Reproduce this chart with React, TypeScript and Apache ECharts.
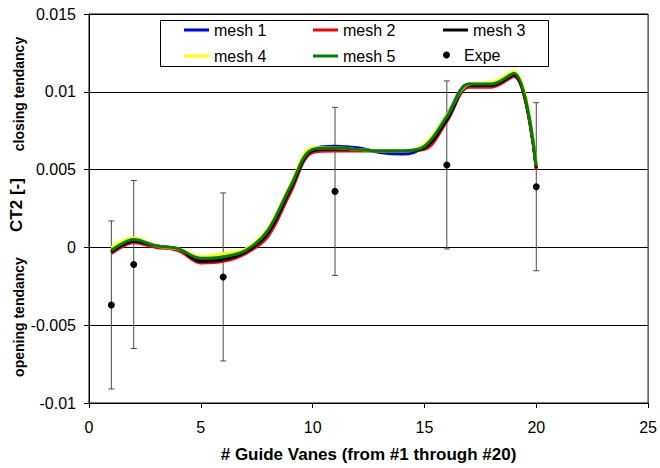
import React, { useEffect, useRef } from "react";
import * as echarts from "echarts";

const FONT = '"Liberation Sans", Arial, sans-serif';

const vaneIndex = [1, 2, 3, 4, 5, 6, 7, 8, 9, 10, 11, 12, 13, 14, 15, 16, 17, 18, 19, 20];

const mesh1 = [-0.0003, 0.0004, 0.0001, -0.0002, -0.0008, -0.0007, -0.0002, 0.0010, 0.0038, 0.0063, 0.0065, 0.0064, 0.0061, 0.0060, 0.0065, 0.0085, 0.0105, 0.0105, 0.0110, 0.0052];
const mesh2 = [-0.0004, 0.0003, 0.0000, -0.0002, -0.0010, -0.0009, -0.0004, 0.0007, 0.0035, 0.0061, 0.0062, 0.0062, 0.0062, 0.0062, 0.0063, 0.0081, 0.0103, 0.0103, 0.0110, 0.0050];
const mesh3 = [-0.0003, 0.0004, 0.0001, -0.0001, -0.0009, -0.0008, -0.0003, 0.0009, 0.0037, 0.0062, 0.0063, 0.0063, 0.0062, 0.0062, 0.0064, 0.0082, 0.0104, 0.0104, 0.0111, 0.0051];
const mesh4 = [0.0000, 0.0006, 0.0001, -0.0001, -0.0006, -0.0004, -0.0001, 0.0012, 0.0040, 0.0064, 0.0064, 0.0063, 0.0062, 0.0062, 0.0066, 0.0085, 0.0105, 0.0106, 0.0113, 0.0053];
const mesh5 = [-0.0002, 0.0005, 0.0001, -0.0001, -0.0007, -0.0006, -0.0002, 0.0011, 0.0039, 0.0063, 0.0064, 0.0063, 0.0062, 0.0062, 0.0065, 0.0084, 0.0105, 0.0105, 0.0112, 0.0052];

const meshNames = ["mesh 1", "mesh 2", "mesh 3", "mesh 4", "mesh 5"];
const meshColors = ["#0000FF", "#FF0000", "#000000", "#FFFF00", "#008000"];
const meshValues = [mesh1, mesh2, mesh3, mesh4, mesh5];

const expeX = [1, 2, 6, 11, 16, 20];
const expeY = [-0.0037, -0.0011, -0.0019, 0.0036, 0.0053, 0.0039];
const expeErr = [0.0054, 0.0054, 0.0054, 0.0054, 0.0054, 0.0054];

export default function App() {
  const ref = useRef<HTMLDivElement>(null);

  useEffect(() => {
    const chart = echarts.init(ref.current!, null, { renderer: "svg" });

    const meshSeries = meshNames.map((name, i) => ({
      name,
      type: "line",
      data: vaneIndex.map((x, j) => [x, meshValues[i][j]]),
      smooth: 0.35,
      symbol: "none",
      lineStyle: { color: meshColors[i], width: 3 },
      itemStyle: { color: meshColors[i] },
      z: 3 + i,
    }));

    const errData = expeX.map((x, i) => [x, expeY[i] - expeErr[i], expeY[i] + expeErr[i]]);

    const legendText = { fontFamily: FONT, fontSize: 16, color: "#000" };
    const lineLegend = (left: number, names: string[]) => ({
      orient: "vertical",
      left,
      top: 22,
      padding: 0,
      itemGap: 10,
      itemWidth: 25,
      itemHeight: 3,
      icon: "rect",
      textStyle: legendText,
      data: names,
      selectedMode: false,
    });

    const option: any = {
      animation: false,
      backgroundColor: "#fff",
      grid: {
        left: 89,
        right: 8,
        top: 14,
        bottom: 64,
        show: true,
        borderColor: "#000",
        borderWidth: 1,
      },
      xAxis: {
        type: "value",
        min: 0,
        max: 25,
        interval: 5,
        name: "# Guide Vanes (from #1 through #20)",
        nameLocation: "middle",
        nameGap: 43,
        nameTextStyle: { fontFamily: FONT, fontSize: 17, fontWeight: "bold", color: "#000" },
        axisLine: { show: true, onZero: false, lineStyle: { color: "#000", width: 1 } },
        axisTick: { show: true, inside: false, length: 5, lineStyle: { color: "#000" } },
        axisLabel: { fontFamily: FONT, fontSize: 16, color: "#000", margin: 16 },
        splitLine: { show: false },
      },
      yAxis: {
        type: "value",
        min: -0.01,
        max: 0.015,
        interval: 0.005,
        axisLine: { show: true, lineStyle: { color: "#000", width: 1 } },
        axisTick: { show: true, inside: false, length: 5, lineStyle: { color: "#000" } },
        axisLabel: { fontFamily: FONT, fontSize: 16, color: "#000", margin: 13 },
        splitLine: { show: true, lineStyle: { color: "#000", width: 1 } },
      },
      legend: [
        lineLegend(184, ["mesh 1", "mesh 4"]),
        lineLegend(313, ["mesh 2", "mesh 5"]),
        lineLegend(443, ["mesh 3"]),
        {
          orient: "vertical",
          left: 443,
          top: 47,
          padding: 0,
          itemWidth: 25,
          itemHeight: 7,
          icon: "circle",
          textStyle: legendText,
          data: ["Expe"],
          selectedMode: false,
        },
      ],
      graphic: [
        {
          type: "rect",
          left: 160,
          top: 20,
          shape: { width: 388, height: 46 },
          style: { fill: "#fff", stroke: "#000", lineWidth: 1 },
          z: 0,
        },
        {
          type: "text",
          x: 19,
          y: 94,
          rotation: Math.PI / 2,
          style: {
            text: "closing tendancy",
            font: `bold 14px ${FONT}`,
            fill: "#000",
            align: "center",
            verticalAlign: "middle",
          },
        },
        {
          type: "text",
          x: 16,
          y: 205,
          rotation: Math.PI / 2,
          style: {
            text: "CT2 [-]",
            font: `bold 17px ${FONT}`,
            fill: "#000",
            align: "center",
            verticalAlign: "middle",
          },
        },
        {
          type: "text",
          x: 19,
          y: 317,
          rotation: Math.PI / 2,
          style: {
            text: "opening tendancy",
            font: `bold 14px ${FONT}`,
            fill: "#000",
            align: "center",
            verticalAlign: "middle",
          },
        },
      ],
      series: [
        {
          name: "errors",
          type: "custom",
          data: errData,
          encode: { x: 0, y: [1, 2] },
          z: 2,
          renderItem: (params: any, api: any) => {
            const x = api.value(0);
            const lo = api.coord([x, api.value(1)]);
            const hi = api.coord([x, api.value(2)]);
            const cap = 3;
            const style = { stroke: "#4a4a4a", lineWidth: 1 };
            return {
              type: "group",
              children: [
                { type: "line", shape: { x1: hi[0], y1: hi[1], x2: lo[0], y2: lo[1] }, style },
                { type: "line", shape: { x1: hi[0] - cap, y1: hi[1], x2: hi[0] + cap, y2: hi[1] }, style },
                { type: "line", shape: { x1: lo[0] - cap, y1: lo[1], x2: lo[0] + cap, y2: lo[1] }, style },
              ],
            };
          },
        },
        ...meshSeries,
        {
          name: "Expe",
          type: "scatter",
          data: expeX.map((x, i) => [x, expeY[i]]),
          symbol: "circle",
          symbolSize: 7,
          itemStyle: { color: "#000", opacity: 1 },
          z: 10,
        },
      ],
    };

    chart.setOption(option);
    return () => chart.dispose();
  }, []);

  return (
    <div
      ref={ref}
      style={{ position: "fixed", left: 0, top: 0, width: 660, height: 468 }}
    />
  );
}
